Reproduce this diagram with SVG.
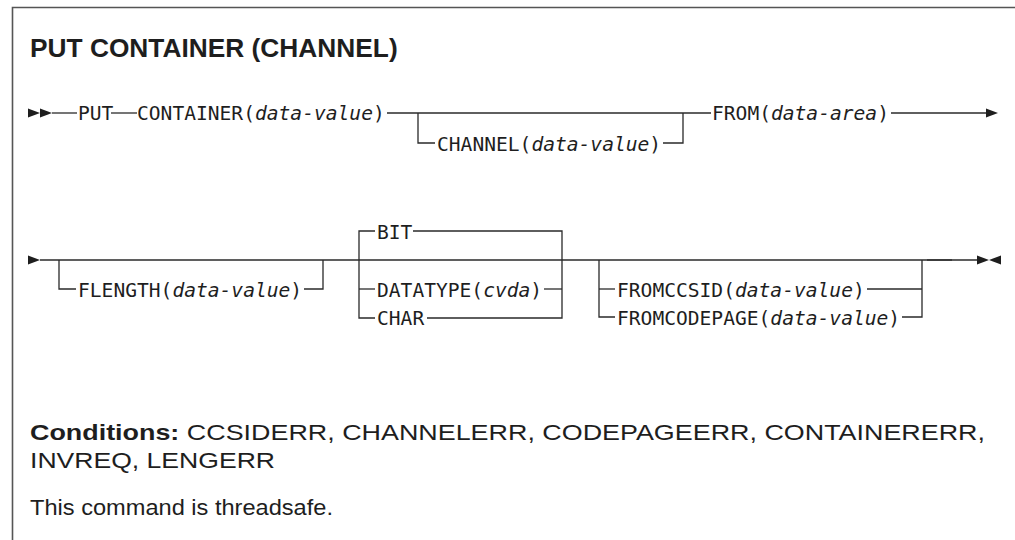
<svg xmlns="http://www.w3.org/2000/svg" width="1015" height="540" viewBox="0 0 1015 540">
<style>
.syn{font-family:"DejaVu Sans Mono","Liberation Mono",monospace;font-size:19.6px;fill:#1e1e1e}
.it{font-style:italic}
.prose{font-family:"Liberation Sans",Arial,sans-serif;font-size:21.5px;fill:#1e1e1e}
.title{font-family:"Liberation Sans",Arial,sans-serif;font-size:26.3px;font-weight:bold;fill:#1e1e1e}
.ln{fill:none;stroke:#2a2a2a;stroke-width:1.3}
.arr{fill:#1e1e1e}
.frame{fill:none;stroke:#555;stroke-width:1.6}
</style>
<rect width="1015" height="540" fill="#fff"/>
<path class="frame" d="M12.5,540 V7.5 H1015"/>
<g id="title"><text class="title" x="30" y="57">PUT CONTAINER (CHANNEL)</text></g>

<g id="connectors">
  <!-- row 1 -->
  <polygon class="arr" points="28,108.5 40,113 28,117.5"/>
  <polygon class="arr" points="40,108.5 52,113 40,117.5"/>
  <path class="ln" d="M52,113 H77"/>
  <path class="ln" d="M111,113 H137"/>
  <path class="ln" d="M387,113 H711"/>
  <path class="ln" d="M418,113 V143 H435"/>
  <path class="ln" d="M663,143 H683 V113"/>
  <path class="ln" d="M891,113 H986"/>
  <polygon class="arr" points="986,108.5 998,113 986,117.5"/>
  <!-- row 2 -->
  <polygon class="arr" points="28,255.5 40,260 28,264.5"/>
  <path class="ln" d="M40,260 H977"/>
  <path class="ln" d="M59,260 V289 H76"/>
  <path class="ln" d="M304,289 H323 V260"/>
  <path class="ln" d="M375,231 H359 V318 H375"/>
  <path class="ln" d="M359,289 H375"/>
  <path class="ln" d="M413,231 H562 V318 H427"/>
  <path class="ln" d="M544,289 H562"/>
  <path class="ln" d="M599,260 V317 H615"/>
  <path class="ln" d="M599,289 H615"/>
  <path class="ln" d="M867,289 H922"/>
  <path class="ln" d="M902,317 H922 V260"/>
  <path class="ln" d="M927,260 H952" stroke-width="2"/>
  <polygon class="arr" points="977,255.5 989,260 977,264.5"/>
  <polygon class="arr" points="1001,255.5 989,260 1001,264.5"/>
</g>

<g id="n-put"><text class="syn" x="78" y="120">PUT</text></g>
<g id="n-container"><text class="syn" x="137" y="120">CONTAINER(<tspan class="it">data-value</tspan>)</text></g>
<g id="n-channel"><text class="syn" x="437" y="150.5">CHANNEL(<tspan class="it">data-value</tspan>)</text></g>
<g id="n-from"><text class="syn" x="712" y="120">FROM(<tspan class="it">data-area</tspan>)</text></g>
<g id="n-flength"><text class="syn" x="78" y="296.5">FLENGTH(<tspan class="it">data-value</tspan>)</text></g>
<g id="n-bit"><text class="syn" x="377" y="238.5">BIT</text></g>
<g id="n-datatype"><text class="syn" x="377" y="296.5">DATATYPE(<tspan class="it">cvda</tspan>)</text></g>
<g id="n-char"><text class="syn" x="377" y="324.5">CHAR</text></g>
<g id="n-fromccsid"><text class="syn" x="617" y="296.5">FROMCCSID(<tspan class="it">data-value</tspan>)</text></g>
<g id="n-fromcodepage"><text class="syn" x="617" y="324.5">FROMCODEPAGE(<tspan class="it">data-value</tspan>)</text></g>

<g id="conditions">
  <text class="prose" x="30" y="440" textLength="955" lengthAdjust="spacingAndGlyphs"><tspan font-weight="bold">Conditions:</tspan> CCSIDERR, CHANNELERR, CODEPAGEERR, CONTAINERERR,</text>
  <text class="prose" x="30" y="468" textLength="245" lengthAdjust="spacingAndGlyphs">INVREQ, LENGERR</text>
  <text class="prose" x="30" y="515" textLength="303" lengthAdjust="spacingAndGlyphs">This command is threadsafe.</text>
</g>
</svg>
